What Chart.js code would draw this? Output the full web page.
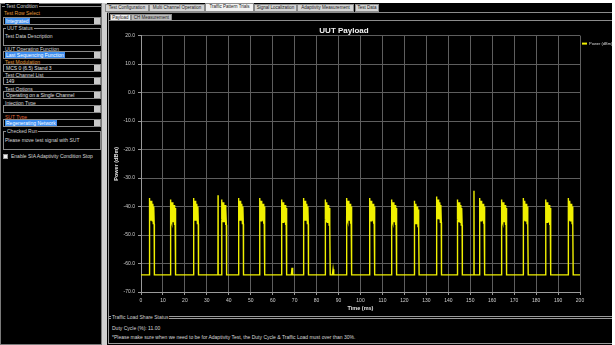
<!DOCTYPE html>
<html>
<head>
<meta charset="utf-8">
<script src="https://cdn.jsdelivr.net/npm/chart.js@4"></script>
<style>
  html, body { margin: 0; padding: 0; }
  body { width: 615px; height: 345px; background: #fff; overflow: hidden; position: relative;
         font-family: "Liberation Sans", Arial, sans-serif; }
  .a { position: absolute; box-sizing: border-box; }
  .t { position: absolute; font-size: 5px; line-height: 6px; color: #d8d8d8; white-space: nowrap; }
  .or { color: #e39a3a; }
  .dd { position: absolute; left: 3px; width: 98px; height: 8px; border: 1px solid #8a8a8a; background: #000; box-sizing: border-box; }
  .dd .arr { position: absolute; right: 0; top: 0; width: 6px; height: 6px; background: #c9c9c9; }
  .dd .sel { position: absolute; left: 1px; top: 0; height: 6px; background: #3d8ef0; color: #fff; font-size: 5px; line-height: 6px; padding: 0 1px; white-space: nowrap; }
  .dd .txt { position: absolute; left: 2px; top: 0; color: #e0e0e0; font-size: 5px; line-height: 6px; white-space: nowrap; }
  .grp { position: absolute; border: 1px solid #8a8a8a; box-sizing: border-box; }
  .gt { position: absolute; font-size: 5px; line-height: 6px; color: #cfcfcf; background: #000; padding: 0 1px; white-space: nowrap; }
  .tab { position: absolute; top: 4px; height: 8px; background: #d4d4d4; border: 1px solid #8c8c8c; box-sizing: border-box;
         font-size: 4.5px; line-height: 6px; color: #222; text-align: center; white-space: nowrap; overflow: hidden; }
  #chartBox { position: absolute; left: 108px; top: 21px; width: 504px; height: 292px; }
</style>
</head>
<body>
<!-- left settings panel -->
<div class="a" style="left:0;top:3px;width:102px;height:342px;background:#000;border:1px solid #7a7a7a;"></div>
<div class="a" style="left:2px;top:6px;width:99px;height:1px;background:#8a8a8a;"></div>
<div class="gt" style="left:5px;top:3px;">Test Condition</div>
<div class="t or" style="left:4px;top:10px;">Test Row Select</div>
<div class="dd" style="top:17px;"><div class="sel">Integrated</div><div class="arr"></div></div>
<div class="grp" style="left:3px;top:28px;width:98px;height:18px;"></div>
<div class="gt" style="left:6px;top:25px;">UUT Status</div>
<div class="t" style="left:5px;top:33px;">Test Data Description</div>
<div class="t" style="left:5px;top:46px;">UUT Operating Function</div>
<div class="dd" style="top:51px;"><div class="sel">Last Sequencing Function</div><div class="arr"></div></div>
<div class="t or" style="left:5px;top:59px;">Test Modulation</div>
<div class="dd" style="top:64px;"><div class="txt">MCS 0 (6.5) Stand 3</div><div class="arr"></div></div>
<div class="t" style="left:5px;top:72px;">Test Channel List</div>
<div class="dd" style="top:77px;"><div class="txt">149</div><div class="arr"></div></div>
<div class="t" style="left:5px;top:86px;">Test Options</div>
<div class="dd" style="top:91px;"><div class="txt">Operating on a Single Channel</div><div class="arr"></div></div>
<div class="t" style="left:5px;top:100px;">Injection Type</div>
<div class="dd" style="top:105px;"><div class="arr"></div></div>
<div class="t or" style="left:5px;top:114px;color:#e0683a;">SUT Type</div>
<div class="dd" style="top:119px;"><div class="sel">Regenerating Network</div><div class="arr"></div></div>
<div class="grp" style="left:3px;top:131px;width:98px;height:19px;"></div>
<div class="gt" style="left:6px;top:128px;">Checked Run</div>
<div class="t" style="left:5px;top:137px;">Please move test signal with SUT</div>
<div class="a" style="left:3px;top:154px;width:5px;height:5px;background:#eee;border:1px solid #999;"></div>
<div class="t" style="left:11px;top:153px;">Enable SIA Adaptivity Condition Stop</div>

<!-- divider -->
<div class="a" style="left:102px;top:3px;width:5px;height:342px;background:#cfcfcf;"></div>

<!-- main panel -->
<div class="a" style="left:107px;top:3px;width:505px;height:342px;background:#000;"></div>
<div class="tab" style="left:105px;width:44px;">Test Configuration</div>
<div class="tab" style="left:149px;width:56px;">Multi Channel Operation</div>
<div class="tab" style="left:205px;width:49px;top:3px;height:9px;background:#f2f2f2;">Traffic Pattern Trials</div>
<div class="tab" style="left:254px;width:43px;">Signal Localization</div>
<div class="tab" style="left:297px;width:57px;">Adaptivity Measurement</div>
<div class="tab" style="left:355px;width:24px;">Test Data</div>
<div class="a" style="left:107px;top:12px;width:505px;height:1px;background:#8c8c8c;"></div>
<div class="tab" style="left:110px;top:14px;width:21px;height:7px;background:#f0f0f0;line-height:5px;">Payload</div>
<div class="tab" style="left:131px;top:14px;width:41px;height:7px;background:#bdbdbd;line-height:5px;">CH Measurement</div>
<div class="a" style="left:108px;top:20px;width:504px;height:1px;background:#8c8c8c;"></div>
<div class="a" style="left:108px;top:13px;width:1px;height:331px;background:#9a9a9a;"></div>

<div id="chartBox"><canvas id="payloadChart"></canvas></div>

<!-- traffic load status -->
<div class="a" style="left:109px;top:316px;width:503px;height:1px;background:#9a9a9a;"></div>
<div class="a" style="left:109px;top:318px;width:503px;height:1px;background:#9a9a9a;"></div>
<div class="gt" style="left:111px;top:314px;">Traffic Load Share Status</div>
<div class="t" style="left:112px;top:325px;">Duty Cycle (%): 11.00</div>
<div class="t" style="left:112px;top:334px;">*Please make sure when we need to be for Adaptivity Test, the Duty Cycle &amp; Traffic Load must over than 30%.</div>
<div class="a" style="left:108px;top:343px;width:504px;height:1px;background:#9a9a9a;"></div>

<script>
// pulse start times (ms) and peak power (dBm)
const pulseStart = [3.8, 13.5, 23.9, 36.7, 44.4, 54.1, 64.1, 74.0, 83.9, 93.7,
                    104.2, 114.2, 124.4, 134.6, 144.1, 154.3, 164.3, 174.1, 184.4, 194.6];
const pulsePeak = [-37.0, -37.5, -37.0, -37.5, -37.0, -37.0, -37.5, -37.0, -37.5, -37.0,
                   -37.0, -37.5, -38.0, -36.5, -37.5, -37.0, -37.5, -37.0, -37.5, -37.0];
// shape of the noisy pulse top: time offset (ms) and drop from peak (dB)
const pulseOffset = [0, 0.2, 0.4, 0.6, 0.8, 1.0, 1.2, 1.4, 1.6, 1.8, 2.0, 2.2];
const pulseDrop = [0, -7, -1, -8, -1, -8, -2, -8, -2, -9, -3, -9];
const pulseEnd = 2.3;
const baseline = -64;
// thin spikes and small glitches on the floor
const spikeTime = [35.1, 151.7];
const spikeValue = [-36.0, -34.5];
const glitchTime = [68.8, 87.5];
const glitchValue = [-61.5, -62.0];
// axes
const xTicks = { min: 0, max: 200, step: 10 };
const yTicks = { min: -70, max: 20, step: 10 };

const points = [{ x: 0, y: baseline }];
pulseStart.forEach((s, i) => {
    points.push({ x: s, y: baseline });
    pulseOffset.forEach((o, k) => points.push({ x: s + o, y: pulsePeak[i] + pulseDrop[k] }));
    points.push({ x: s + pulseEnd, y: baseline });
});
spikeTime.forEach((t, i) => {
    points.push({ x: t - 0.05, y: baseline }, { x: t, y: spikeValue[i] }, { x: t + 0.05, y: baseline });
});
glitchTime.forEach((t, i) => {
    points.push({ x: t - 0.3, y: baseline }, { x: t, y: glitchValue[i] }, { x: t + 0.3, y: baseline });
});
points.push({ x: 200, y: baseline });
points.sort((a, b) => a.x - b.x);

const sideLegend = {
    id: 'sideLegend',
    afterDraw(chart) {
        const ctx = chart.ctx;
        const ds = chart.data.datasets[0];
        const x = chart.chartArea.right + 2;
        const y = chart.chartArea.top + 8;
        ctx.save();
        ctx.strokeStyle = ds.borderColor;
        ctx.lineWidth = 2;
        ctx.beginPath();
        ctx.moveTo(x, y);
        ctx.lineTo(x + 5, y);
        ctx.stroke();
        ctx.fillStyle = '#d8d8d8';
        ctx.font = '4px "Liberation Sans", Arial, sans-serif';
        ctx.textBaseline = 'middle';
        ctx.fillText(ds.label, x + 7, y);
        ctx.restore();
    }
};

new Chart(document.getElementById('payloadChart'), {
    type: 'line',
    data: {
        datasets: [{
            label: 'Power (dBm)',
            data: points,
            borderColor: 'rgb(240,240,0)',
            borderWidth: 1.4,
            pointRadius: 0,
            tension: 0
        }]
    },
    options: {
        responsive: true,
        maintainAspectRatio: false,
        animation: false,
        layout: { padding: { left: 0, right: 32, top: 0, bottom: 0 } },
        plugins: {
            legend: { display: false },
            tooltip: { enabled: false },
            title: {
                display: true,
                text: 'UUT Payload',
                color: '#f2f2f2',
                font: { family: '"Liberation Sans", Arial, sans-serif', size: 8, weight: 'bold' },
                padding: { top: 5, bottom: 0 }
            }
        },
        scales: {
            x: {
                type: 'linear',
                min: xTicks.min,
                max: xTicks.max,
                afterFit: s => { s.height = 21; },
                ticks: {
                    stepSize: xTicks.step,
                    color: '#cfcfcf',
                    font: { family: '"Liberation Sans", Arial, sans-serif', size: 5 },
                    padding: 3,
                    maxRotation: 0,
                    autoSkip: false
                },
                grid: { color: '#5e5e5e', tickColor: '#9a9a9a', tickLength: 3 },
                border: { color: '#9a9a9a' },
                title: {
                    display: true,
                    text: 'Time (ms)',
                    color: '#e0e0e0',
                    font: { family: '"Liberation Sans", Arial, sans-serif', size: 5.5, weight: 'bold' },
                    padding: 1
                }
            },
            y: {
                min: yTicks.min,
                max: yTicks.max,
                afterFit: s => { s.width = 33; },
                ticks: {
                    stepSize: yTicks.step,
                    color: '#cfcfcf',
                    font: { family: '"Liberation Sans", Arial, sans-serif', size: 5 },
                    padding: 3,
                    callback: v => v.toFixed(1)
                },
                grid: { color: '#5e5e5e', tickColor: '#9a9a9a', tickLength: 3 },
                border: { color: '#9a9a9a' },
                title: {
                    display: true,
                    text: 'Power (dBm)',
                    color: '#e0e0e0',
                    font: { family: '"Liberation Sans", Arial, sans-serif', size: 5.5, weight: 'bold' },
                    padding: { top: 5, bottom: 0 }
                }
            }
        }
    },
    plugins: [sideLegend]
});
</script>
</body>
</html>
